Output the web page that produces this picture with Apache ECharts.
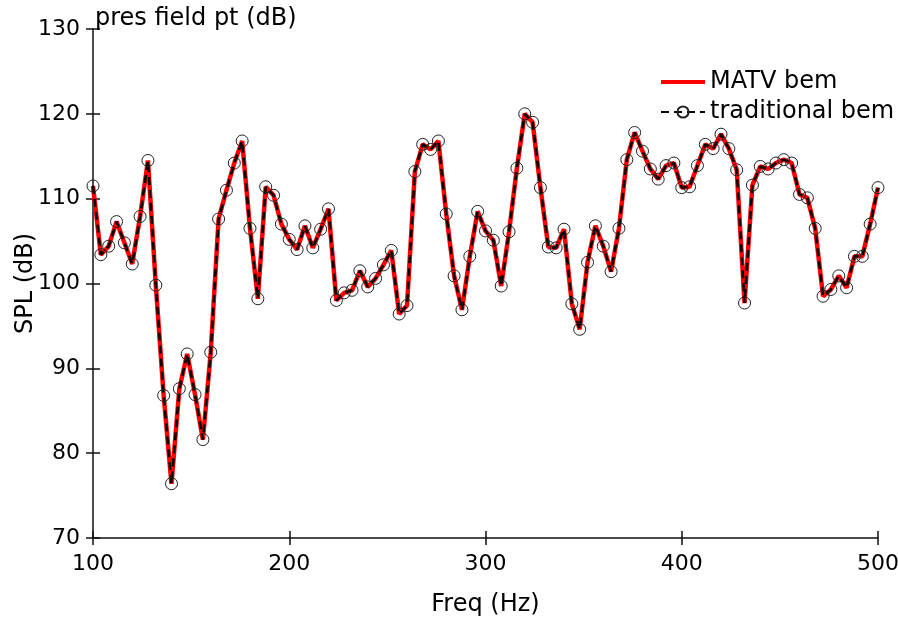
<!DOCTYPE html>
<html>
<head>
<meta charset="utf-8">
<title>pres field pt (dB)</title>
<script src="https://cdn.jsdelivr.net/npm/echarts@6/dist/echarts.min.js"></script>
<style>
  html, body { margin: 0; padding: 0; background: #fff; }
  #chart { width: 898px; height: 624px; }
</style>
</head>
<body>
<div id="chart"></div>
<script>
// frequencies (Hz), one sample every 4 Hz
const freqHz = [
  100, 104, 108, 112, 116, 120, 124, 128, 132, 136, 140, 144, 148, 152, 156, 160, 164, 168, 172, 176,
  180, 184, 188, 192, 196, 200, 204, 208, 212, 216, 220, 224, 228, 232, 236, 240, 244, 248, 252, 256,
  260, 264, 268, 272, 276, 280, 284, 288, 292, 296, 300, 304, 308, 312, 316, 320, 324, 328, 332, 336,
  340, 344, 348, 352, 356, 360, 364, 368, 372, 376, 380, 384, 388, 392, 396, 400, 404, 408, 412, 416,
  420, 424, 428, 432, 436, 440, 444, 448, 452, 456, 460, 464, 468, 472, 476, 480, 484, 488, 492, 496,
  500
];

// SPL (dB) - MATV bem
const matvSpl = [
  111.5, 103.4, 104.4, 107.3, 104.8, 102.3, 107.9, 114.5, 99.8, 86.8, 76.4, 87.6, 91.7, 86.9, 81.6, 91.9, 107.6, 111.0, 114.2, 116.8,
  106.5, 98.2, 111.4, 110.4, 107.0, 105.2, 104.0, 106.8, 104.2, 106.4, 108.8, 98.0, 98.9, 99.2, 101.5, 99.6, 100.6, 102.2, 103.9, 96.4,
  97.4, 113.2, 116.4, 115.8, 116.8, 108.2, 100.9, 96.9, 103.2, 108.5, 106.2, 105.1, 99.7, 106.1, 113.6, 120.0, 119.0, 111.3, 104.3, 104.2,
  106.4, 97.6, 94.6, 102.5, 106.8, 104.4, 101.4, 106.5, 114.6, 117.8, 115.6, 113.5, 112.3, 113.9, 114.2, 111.3, 111.4, 113.9, 116.4, 115.9,
  117.6, 115.9, 113.4, 97.7, 111.6, 113.8, 113.5, 114.2, 114.6, 114.2, 110.5, 110.1, 106.5, 98.5, 99.3, 100.9, 99.5, 103.2, 103.2, 107.0,
  111.3
];

// SPL (dB) - traditional bem (overlaps MATV everywhere in the plot)
const tradSpl = matvSpl.slice();

const xTicks = { min: 100, max: 500, step: 100 };
const yTicks = { min: 70, max: 130, step: 10 };

const font = 'DejaVu Sans';
const axisColor = '#111';

const chart = echarts.init(document.getElementById('chart'), null, { renderer: 'canvas' });

const pairs = (ys) => freqHz.map((f, i) => [f, ys[i]]);

// two overlapping axes per direction so the ticks cross the axis line
const xBase = {
  type: 'value',
  min: xTicks.min,
  max: xTicks.max,
  interval: xTicks.step,
  position: 'bottom',
  splitLine: { show: false },
};
const yBase = {
  type: 'value',
  min: yTicks.min,
  max: yTicks.max,
  interval: yTicks.step,
  position: 'left',
  splitLine: { show: false },
};

chart.setOption({
  animation: false,
  backgroundColor: '#fff',
  title: {
    text: 'pres field pt (dB)',
    left: 90,
    top: 2,
    textStyle: { fontFamily: font, fontSize: 24, fontWeight: 'normal', color: '#000' },
  },
  legend: {
    orient: 'vertical',
    left: 654,
    top: 64,
    itemWidth: 44,
    itemHeight: 14,
    itemGap: 4,
    textStyle: { fontFamily: font, fontSize: 24, color: '#000', lineHeight: 26 },
    data: [
      { name: 'MATV bem', itemStyle: { opacity: 0 }, lineStyle: { width: 4 } },
      { name: 'traditional bem' },
    ],
  },
  grid: { left: 93, right: 20, top: 29, bottom: 86, containLabel: false, outerBoundsMode: 'none' },
  xAxis: [
    Object.assign({}, xBase, {
      name: 'Freq (Hz)',
      nameLocation: 'middle',
      nameGap: 55,
      nameMoveOverlap: false,
      nameTextStyle: { fontFamily: font, fontSize: 24, color: '#000' },
      axisLine: { show: true, lineStyle: { color: axisColor, width: 1.5 } },
      axisTick: { show: true, inside: false, length: 7, lineStyle: { color: axisColor, width: 1.5 } },
      axisLabel: { fontFamily: font, fontSize: 22, color: '#000', margin: 15 },
    }),
    Object.assign({}, xBase, {
      axisLine: { show: false },
      axisTick: { show: true, inside: true, length: 7, lineStyle: { color: axisColor, width: 1.5 } },
      axisLabel: { show: false },
    }),
  ],
  yAxis: [
    Object.assign({}, yBase, {
      name: 'SPL (dB)',
      nameLocation: 'middle',
      nameGap: 55,
      nameMoveOverlap: false,
      nameTextStyle: { fontFamily: font, fontSize: 24, color: '#000' },
      axisLine: { show: true, lineStyle: { color: axisColor, width: 1.5 } },
      axisTick: { show: true, inside: false, length: 7, lineStyle: { color: axisColor, width: 1.5 } },
      axisLabel: { fontFamily: font, fontSize: 22, color: '#000', margin: 13 },
    }),
    Object.assign({}, yBase, {
      axisLine: { show: false },
      axisTick: { show: true, inside: true, length: 7, lineStyle: { color: axisColor, width: 1.5 } },
      axisLabel: { show: false },
    }),
  ],
  series: [
    {
      name: 'MATV bem',
      type: 'line',
      xAxisIndex: 0,
      yAxisIndex: 0,
      data: pairs(matvSpl),
      showSymbol: false,
      symbol: 'none',
      lineStyle: { color: '#ff0000', width: 4.5 },
      itemStyle: { color: '#ff0000' },
      z: 2,
    },
    {
      name: 'traditional bem',
      type: 'line',
      xAxisIndex: 0,
      yAxisIndex: 0,
      data: pairs(tradSpl),
      symbol: 'circle',
      symbolSize: 12,
      showAllSymbol: true,
      lineStyle: { color: '#000', width: 2.5, type: [8, 5] },
      itemStyle: { color: 'rgba(255,255,255,0)', borderColor: '#222', borderWidth: 1 },
      z: 3,
    },
  ],
});
</script>
</body>
</html>
